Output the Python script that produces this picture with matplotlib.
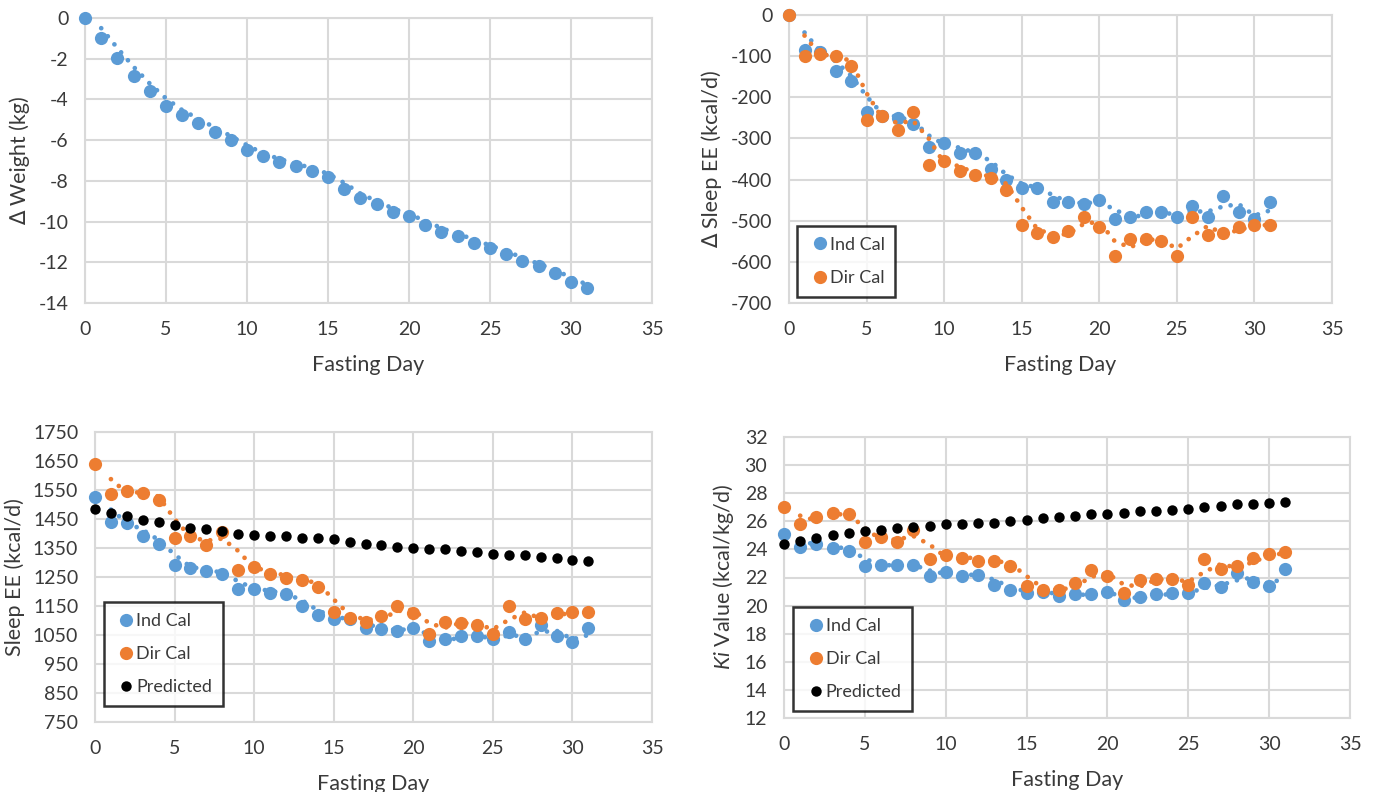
import matplotlib
matplotlib.use("Agg")
import matplotlib.pyplot as plt
import numpy as np
import pandas as pd

# ---------------- data ----------------
days = list(range(32))

weight_change = [0, -1.0, -1.95, -2.85, -3.6, -4.3, -4.75, -5.15, -5.6, -6.0, -6.5, -6.8,
                 -7.05, -7.25, -7.5, -7.8, -8.4, -8.85, -9.15, -9.55, -9.75, -10.15, -10.5,
                 -10.7, -11.05, -11.3, -11.6, -11.95, -12.2, -12.55, -12.95, -13.25]

dsee_ind = [0, -85, -90, -135, -160, -235, -245, -250, -265, -320, -310, -335, -335, -375,
            -400, -420, -420, -455, -455, -460, -450, -495, -490, -480, -480, -490, -465,
            -490, -440, -480, -495, -455]
dsee_dir = [0, -100, -95, -100, -125, -255, -245, -280, -235, -365, -355, -380, -390, -395,
            -425, -510, -530, -540, -525, -490, -515, -585, -545, -545, -550, -585, -490,
            -535, -530, -515, -510, -510]

see_ind = [1525, 1440, 1435, 1390, 1365, 1290, 1280, 1270, 1260, 1210, 1210, 1195, 1190,
           1150, 1120, 1105, 1105, 1075, 1070, 1065, 1075, 1030, 1035, 1045, 1045, 1035,
           1060, 1035, 1085, 1045, 1025, 1075]
see_dir = [1640, 1535, 1545, 1540, 1515, 1385, 1390, 1360, 1405, 1275, 1285, 1260, 1245,
           1240, 1215, 1130, 1110, 1095, 1115, 1150, 1125, 1055, 1095, 1090, 1085, 1055,
           1150, 1105, 1110, 1125, 1130, 1130]
see_pred = [1485, 1470, 1460, 1445, 1440, 1430, 1420, 1415, 1410, 1400, 1395, 1390, 1390,
            1385, 1385, 1380, 1370, 1365, 1360, 1355, 1350, 1345, 1345, 1340, 1335, 1330,
            1325, 1325, 1320, 1315, 1310, 1305]

ki_ind = [25.1, 24.2, 24.4, 24.1, 23.9, 22.8, 22.9, 22.9, 22.9, 22.1, 22.4, 22.1, 22.2,
          21.5, 21.1, 20.9, 21.0, 20.7, 20.8, 20.8, 21.0, 20.4, 20.6, 20.8, 20.9, 20.9,
          21.6, 21.3, 22.3, 21.7, 21.4, 22.6]
ki_dir = [27.0, 25.8, 26.3, 26.6, 26.5, 24.5, 24.9, 24.5, 25.4, 23.3, 23.6, 23.4, 23.2,
          23.2, 22.8, 21.4, 21.1, 21.1, 21.6, 22.5, 22.1, 20.9, 21.8, 21.9, 21.9, 21.5,
          23.3, 22.6, 22.8, 23.4, 23.7, 23.8]
ki_pred = [24.4, 24.6, 24.8, 25.0, 25.2, 25.3, 25.4, 25.5, 25.6, 25.7, 25.8, 25.8, 25.9,
           25.9, 26.0, 26.1, 26.2, 26.3, 26.4, 26.5, 26.5, 26.6, 26.7, 26.7, 26.8, 26.9,
           27.0, 27.1, 27.2, 27.2, 27.3, 27.4]

series_labels = ["Ind Cal", "Dir Cal", "Predicted"]
x_label = "Fasting Day"

# ---------------- style ----------------
BLUE = "#5B9BD5"
ORANGE = "#ED7D31"
BLACK = "#000000"
GRID = "#D9D9D9"
TXT = "#3A3A3A"

plt.rcParams['font.family'] = ['Lato', 'DejaVu Sans']
plt.rcParams['mathtext.fontset'] = 'custom'
plt.rcParams['mathtext.it'] = 'Lato:italic'
plt.rcParams['mathtext.rm'] = 'Lato'
plt.rcParams['axes.unicode_minus'] = False

fig = plt.figure(figsize=(13.77, 7.92), dpi=100)

W, H = 1377, 792


def axes_px(left, right, top, bottom):
    return fig.add_axes([left / W, 1 - bottom / H, (right - left) / W, (bottom - top) / H])


def style(ax, ylim, yticks, ylabel):
    ax.set_xlim(0, 35)
    ax.set_xticks(range(0, 36, 5))
    ax.set_ylim(*ylim)
    ax.set_yticks(yticks)
    ax.grid(True, color=GRID, linewidth=1.5)
    ax.set_axisbelow(True)
    for s in ax.spines.values():
        s.set_color(GRID)
        s.set_linewidth(1.5)
    ax.tick_params(length=0, labelsize=14, colors=TXT)
    ax.tick_params(axis='x', pad=13)
    ax.tick_params(axis='y', pad=12)
    ax.set_xlabel(x_label, fontsize=15.5, color=TXT, labelpad=12)
    ax.set_ylabel(ylabel, fontsize=15.5, color=TXT, labelpad=6)


def series(ax, y, color, label, ma=True, ms=9.5):
    ax.plot(days, y, 'o', color=color, markersize=ms, markeredgewidth=0, label=label,
            zorder=3, clip_on=False)
    if ma:
        mav = pd.Series(y, index=days).rolling(2).mean()
        ax.plot(mav.index, mav.values, color=color, linestyle=(0, (0.01, 2.2)),
                linewidth=3.4, dash_capstyle='round', zorder=3)


def legend(ax, anchor):
    leg = ax.legend(loc='lower left', bbox_to_anchor=anchor, frameon=True, fancybox=False,
                    edgecolor='black', fontsize=13, handletextpad=-0.1, labelspacing=0.95,
                    borderpad=0.6, handlelength=1.3, borderaxespad=0, markerscale=1.0)
    leg.get_frame().set_linewidth(1.8)
    for t in leg.get_texts():
        t.set_color(TXT)


# --- panel 1: weight
ax1 = axes_px(85, 652, 18, 303)
series(ax1, weight_change, BLUE, series_labels[0])
style(ax1, (-14, 0), range(-14, 1, 2), "\u2206 Weight (kg)")

# --- panel 2: delta sleep EE
ax2 = axes_px(789, 1332, 15, 303)
series(ax2, dsee_ind, BLUE, series_labels[0])
series(ax2, dsee_dir, ORANGE, series_labels[1])
style(ax2, (-700, 0), range(-700, 1, 100), "\u2206 Sleep EE (kcal/d)")
legend(ax2, (0.015, 0.022))

# --- panel 3: sleep EE
ax3 = axes_px(95, 652, 432, 722)
series(ax3, see_ind, BLUE, series_labels[0])
series(ax3, see_dir, ORANGE, series_labels[1])
series(ax3, see_pred, BLACK, series_labels[2], ma=False, ms=7.5)
style(ax3, (750, 1750), range(750, 1751, 100), "Sleep EE (kcal/d)")
legend(ax3, (0.016, 0.055))

# --- panel 4: Ki
ax4 = axes_px(784, 1350, 437, 718)
series(ax4, ki_ind, BLUE, series_labels[0])
series(ax4, ki_dir, ORANGE, series_labels[1])
series(ax4, ki_pred, BLACK, series_labels[2], ma=False, ms=7.5)
style(ax4, (12, 32), range(12, 33, 2), r"$\mathit{Ki}$ Value (kcal/kg/d)")
legend(ax4, (0.016, 0.025))

fig.savefig("out.png", dpi=100)
